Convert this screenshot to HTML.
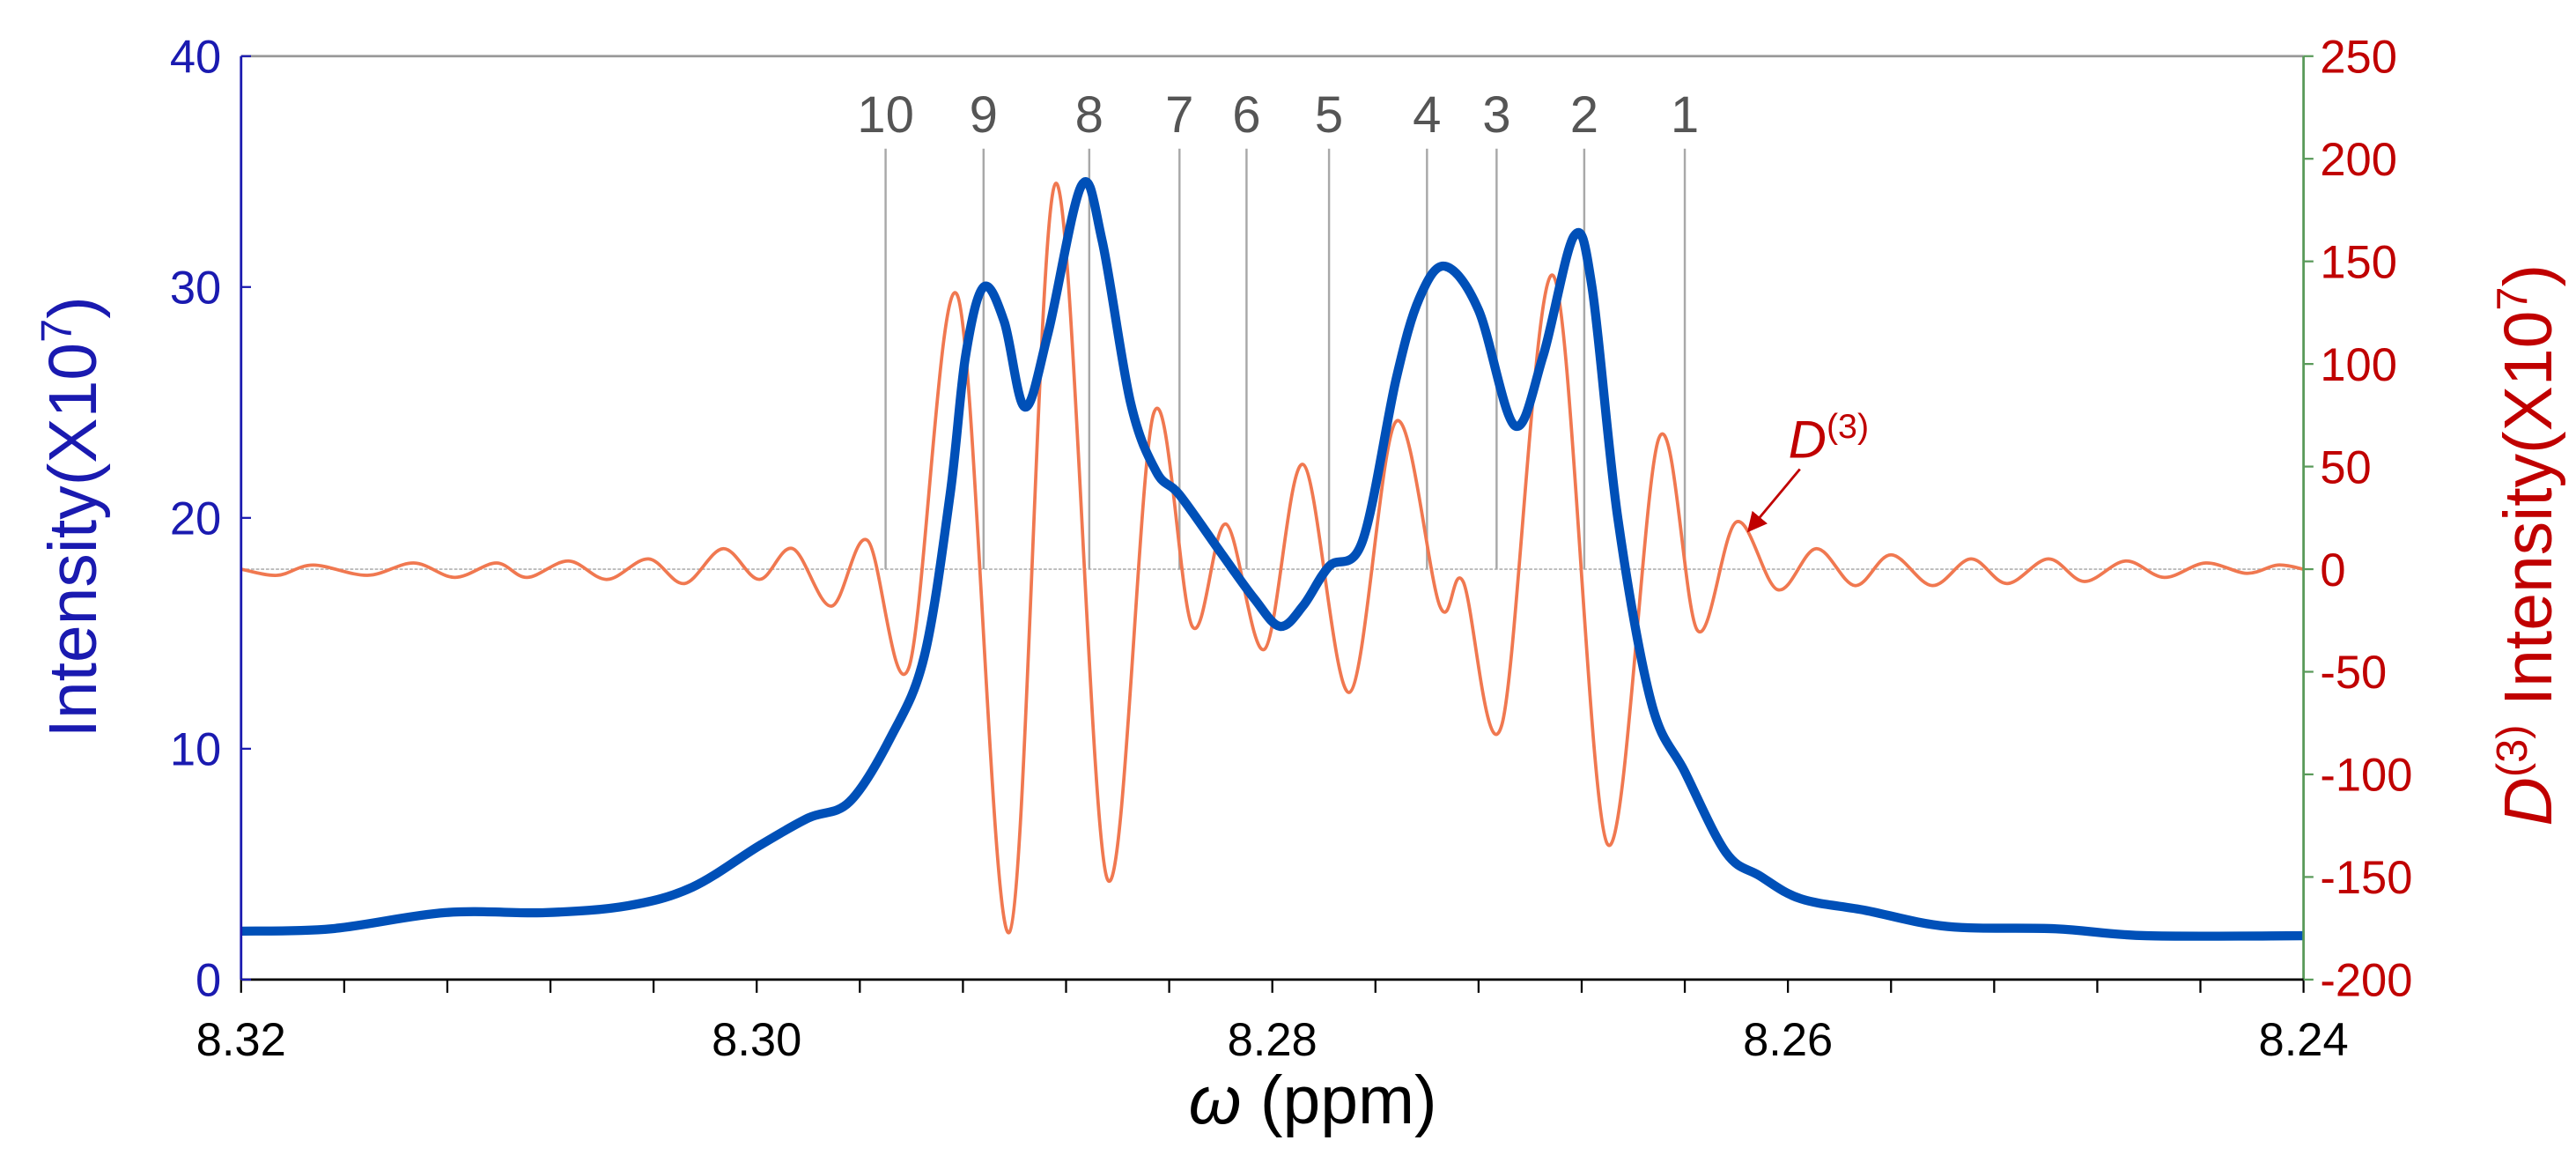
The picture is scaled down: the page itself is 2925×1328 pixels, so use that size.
<!DOCTYPE html>
<html><head><meta charset="utf-8"><style>
html,body{margin:0;padding:0;background:#fff;}
svg{display:block;font-family:"Liberation Sans",sans-serif;}
</style></head><body>
<svg id="chart" width="2925" height="1328" viewBox="0 0 1560 708.27" xmlns="http://www.w3.org/2000/svg">
<defs><marker id="ah" markerWidth="8" markerHeight="8" refX="6" refY="4" orient="auto"><path d="M0,0 L8,4 L0,8 z" fill="#c00000"/></marker></defs>
<g id="grid"></g>
<g id="series"></g>
<g id="axes"></g>
<text transform="translate(58,313) rotate(-90)" text-anchor="middle" font-size="41" fill="#1a1ab0">Intensity(X10<tspan font-size="26" dy="-15">7</tspan><tspan dy="15">)</tspan></text>
<text transform="translate(1545,330) rotate(-90)" text-anchor="middle" font-size="41" fill="#c00000"><tspan font-style="italic">D</tspan><tspan font-size="26" dy="-15">(3)</tspan><tspan dy="15"> Intensity(X10</tspan><tspan font-size="26" dy="-15">7</tspan><tspan dy="15">)</tspan></text>
<text x="795" y="680" text-anchor="middle" font-size="41" fill="#000"><tspan font-style="italic">ω</tspan> (ppm)</text>
<text x="1083" y="277" font-size="32" fill="#c00000"><tspan font-style="italic">D</tspan><tspan font-size="21" dy="-12">(3)</tspan></text>
<line x1="1090" y1="284" x2="1060" y2="320" stroke="#c00000" stroke-width="1.5" marker-end="url(#ah)"/>
</svg>
<script>
const blueX=[8.3200,8.3165,8.3121,8.3082,8.3050,8.3025,8.2999,8.2980,8.2964,8.2948,8.2935,8.2925,8.2919,8.2912,8.2904,8.2896,8.2887,8.2874,8.2866,8.2855,8.2845,8.2836,8.2820,8.2807,8.2797,8.2788,8.2778,8.2765,8.2752,8.2743,8.2733,8.2720,8.2706,8.2695,8.2683,8.2676,8.2666,8.2653,8.2640,8.2624,8.2611,8.2595,8.2570,8.2538,8.2496,8.2461,8.2400];
const blueY=[2.1,2.2,2.9,2.9,3.2,4.0,5.8,7.0,7.7,10.5,14,21,27,30.0,28.5,24.8,28,34.4,32,25,22,21,18.5,16.5,15.3,16.2,17.9,19,26,29.5,30.9,29,24,27,32.2,30,20,12,9,5.5,4.5,3.5,3.0,2.3,2.2,1.9,1.9];
const redX=[8.3200,8.3186,8.3172,8.3151,8.3133,8.3117,8.3101,8.3089,8.3073,8.3058,8.3042,8.3028,8.3013,8.2999,8.2986,8.2971,8.2957,8.2941,8.2922,8.2902,8.2884,8.2864,8.2846,8.2831,8.2818,8.2803,8.2788,8.2770,8.2752,8.2735,8.2726,8.2711,8.2691,8.2670,8.2650,8.2635,8.2620,8.2604,8.2589,8.2574,8.2560,8.2544,8.2529,8.2515,8.2499,8.2485,8.2469,8.2454,8.2438,8.2422,8.2410,8.2400];
const redY=[0,-3,2,-3,3,-4,3,-4,4,-5,5,-7,10,-5,10,-18,14,-48,133,-177,188,-151,76,-28,22,-39,51,-60,72,-18,-6,-76,143,-134,64,-30,23,-10,10,-8,7,-8,5,-7,5,-6,4,-4,3,-2,2,0];
const markerX=[8.2640,8.2679,8.2713,8.2740,8.2778,8.2810,8.2836,8.2871,8.2912,8.2950];
const markerLabels=["1","2","3","4","5","6","7","8","9","10"];
const xTicks=[8.32,8.30,8.28,8.26,8.24];
const xTickLabels=["8.32","8.30","8.28","8.26","8.24"];
const yTicks=[0,10,20,30,40];
const y2Ticks=[250,200,150,100,50,0,-50,-100,-150,-200];

const L=146,R=1395,T=34,B=593;
const sx=v=>L+(8.32-v)/0.08*(R-L);
const sy=v=>B-v/40*(B-T);
const sy2=v=>B-(v+200)/450*(B-T);
const NS="http://www.w3.org/2000/svg";
function mk(p,tag,a){const e=document.createElementNS(NS,tag);for(const k in a)e.setAttribute(k,a[k]);p.appendChild(e);return e;}
function cr(pts){let d="M"+pts[0][0]+","+pts[0][1];for(let i=0;i<pts.length-1;i++){const p0=pts[Math.max(0,i-1)],p1=pts[i],p2=pts[i+1],p3=pts[Math.min(pts.length-1,i+2)];
const c1x=p1[0]+(p2[0]-p0[0])/6,c1y=p1[1]+(p2[1]-p0[1])/6,c2x=p2[0]-(p3[0]-p1[0])/6,c2y=p2[1]-(p3[1]-p1[1])/6;
d+=` C${c1x},${c1y} ${c2x},${c2y} ${p2[0]},${p2[1]}`;}return d;}
const grid=document.getElementById('grid'),ser=document.getElementById('series'),ax=document.getElementById('axes');

let e=mk(grid,'line',{x1:L,x2:R,y1:sy2(0),y2:sy2(0),stroke:'#bbb','stroke-width':1,'stroke-dasharray':'2,1'});

markerX.forEach((v,i)=>{
 const l=mk(grid,'line',{x1:sx(v),x2:sx(v),y1:90,y2:sy2(0),stroke:'#a8a8a8','stroke-width':1.3});
 
 
 const t=mk(grid,'text',{x:sx(v),y:80,'text-anchor':'middle','font-size':31,fill:'#555'});
 t.textContent=markerLabels[i];
 
 
});
const rp=redX.map((v,i)=>[sx(v),sy2(redY[i])]);
e=mk(ser,'path',{d:cr(rp),fill:'none',stroke:'#f07850','stroke-width':2});

const bp=blueX.map((v,i)=>[sx(v),sy(blueY[i])]);
e=mk(ser,'path',{d:cr(bp),fill:'none',stroke:'#0050b8','stroke-width':5.5,'stroke-linejoin':'round'});


e=mk(ax,'line',{x1:L,x2:R,y1:T,y2:T,stroke:'#999','stroke-width':1.5});

e=mk(ax,'line',{x1:L,x2:L,y1:T,y2:B,stroke:'#1a1ab0','stroke-width':1.5});

e=mk(ax,'line',{x1:R,x2:R,y1:T,y2:B,stroke:'#5a9a5a','stroke-width':1.5});

e=mk(ax,'line',{x1:L,x2:R,y1:B,y2:B,stroke:'#000','stroke-width':1.5});

for(let k=0;k<=20;k++){
 const x=L+k*(R-L)/20;
 const t=mk(ax,'line',{x1:x,x2:x,y1:B,y2:B+8,stroke:'#000','stroke-width':1.2});
 
 
}
xTicks.forEach((v,i)=>{
 const t=mk(ax,'text',{x:sx(v),y:B+46,'text-anchor':'middle','font-size':28,fill:'#000'});
 t.textContent=xTickLabels[i];
 
 
});
yTicks.forEach(v=>{
 const l=mk(ax,'line',{x1:L,x2:L+6,y1:sy(v),y2:sy(v),stroke:'#1a1ab0','stroke-width':1.2});
 
 
 const t=mk(ax,'text',{x:L-12,y:sy(v)+10,'text-anchor':'end','font-size':28,fill:'#1a1ab0'});
 t.textContent=v;
 
 
});
y2Ticks.forEach(v=>{
 const l=mk(ax,'line',{x1:R,x2:R+6,y1:sy2(v),y2:sy2(v),stroke:'#5a9a5a','stroke-width':1.2});
 
 
 const t=mk(ax,'text',{x:R+10,y:sy2(v)+10,'text-anchor':'start','font-size':28,fill:'#c00000'});
 t.textContent=v;
 
 
});
</script>
</body></html>
